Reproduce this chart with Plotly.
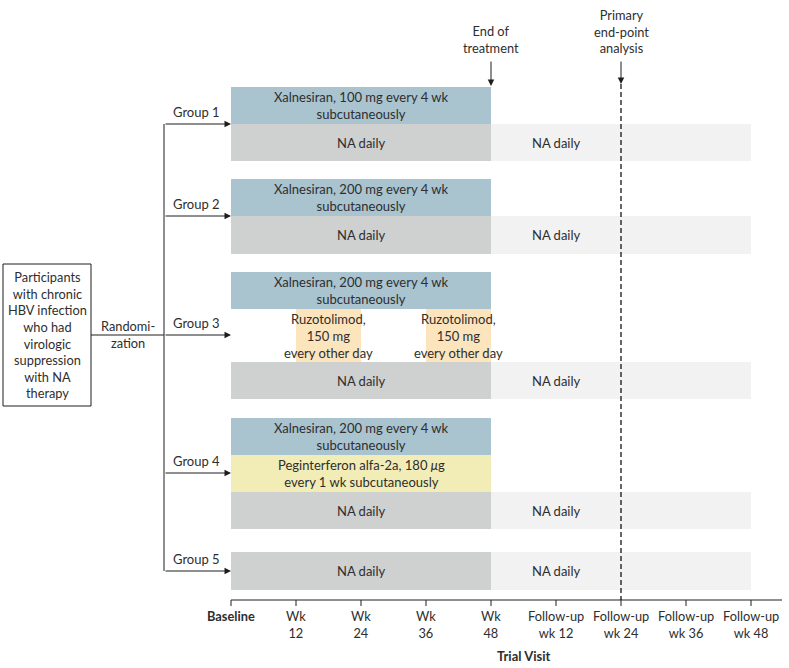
import plotly.graph_objects as go

# ---------------- data ----------------
visit_weeks = [0, 12, 24, 36, 48, 60, 72, 84, 96]
visit_labels = ["<b>Baseline</b>", "Wk<br>12", "Wk<br>24", "Wk<br>36", "Wk<br>48",
                "Follow-up<br>wk 12", "Follow-up<br>wk 24", "Follow-up<br>wk 36", "Follow-up<br>wk 48"]
groups = ["Group 1", "Group 2", "Group 3", "Group 4", "Group 5"]
treatment_start_wk = 0
end_of_treatment_wk = 48
primary_endpoint_wk = 72
followup_end_wk = 96

xalnesiran_text = ["Xalnesiran, 100 mg every 4 wk<br>subcutaneously",
                   "Xalnesiran, 200 mg every 4 wk<br>subcutaneously",
                   "Xalnesiran, 200 mg every 4 wk<br>subcutaneously",
                   "Xalnesiran, 200 mg every 4 wk<br>subcutaneously",
                   None]
ruzotolimod_starts = [12, 36]   # Group 3
ruzotolimod_ends = [24, 48]
ruzotolimod_text = "Ruzotolimod,<br>150 mg<br>every other day"
peginterferon_text = "Peginterferon alfa-2a, 180 <i>μ</i>g<br>every 1 wk subcutaneously"
na_text = "NA daily"
participants_text = ("Participants<br>with chronic<br>HBV infection<br>who had<br>virologic"
                     "<br>suppression<br>with NA<br>therapy")
randomization_text = "Randomi-<br>zation"
end_treatment_text = "End of<br>treatment"
primary_text = "Primary<br>end-point<br>analysis"
axis_title = "<b>Trial Visit</b>"

# ---------------- layout / style ----------------
W, H = 789, 668
X0_PX = 231.0
PX_PER_WK = 65.0 / 12.0


def px(p):
    return (p - X0_PX) / PX_PER_WK


C_BLUE = "#a9c3cf"
C_DGRAY = "#cfd0d0"
C_LGRAY = "#f2f2f2"
C_ORANGE = "#fce4bd"
C_YELLOW = "#f2ecb6"
C_TEXT = "#2e2e2e"
C_LINE = "#1e1e1e"
FONT = "Lato"
FS = 13

# pixel rows
rows = {
    "Group 1": dict(arrow=124, xal=(87, 124), na=(124, 161)),
    "Group 2": dict(arrow=216, xal=(179, 216), na=(216, 254)),
    "Group 3": dict(arrow=335, xal=(272, 309), ruzo=(309, 362), na=(362, 399)),
    "Group 4": dict(arrow=473, xal=(418, 455), peg=(455, 492), na=(492, 529)),
    "Group 5": dict(arrow=571, na=(552, 590)),
}

fig = go.Figure()
annotations = []
shapes = []


def bar(x0, x1, band, color):
    top, bot = band
    fig.add_trace(go.Bar(orientation="h", y=[(top + bot) / 2], base=[x0], x=[x1 - x0],
                         width=[bot - top], marker=dict(color=color, line=dict(width=0)),
                         hoverinfo="skip", showlegend=False))


def label(x, y, text, size=FS, xref="x", **kw):
    annotations.append(dict(x=x, y=y, xref=xref, yref="y", text=text, showarrow=False,
                            font=dict(family=FONT, size=size, color=C_TEXT), **kw))


def arrow(x, y, ax, ay):
    annotations.append(dict(x=x, y=y, ax=ax, ay=ay, xref="x", yref="y", axref="x", ayref="y",
                            text="", showarrow=True, arrowhead=2, arrowsize=1.3, arrowwidth=1,
                            arrowcolor=C_LINE, standoff=0))


for gi, g in enumerate(groups):
    r = rows[g]
    mid_t = (treatment_start_wk + end_of_treatment_wk) / 2
    if xalnesiran_text[gi]:
        bar(treatment_start_wk, end_of_treatment_wk, r["xal"], C_BLUE)
        label(mid_t, sum(r["xal"]) / 2, xalnesiran_text[gi])
    if "ruzo" in r:
        for s, e in zip(ruzotolimod_starts, ruzotolimod_ends):
            bar(s, e, r["ruzo"], C_ORANGE)
            label((s + e) / 2, sum(r["ruzo"]) / 2, ruzotolimod_text)
    if "peg" in r:
        bar(treatment_start_wk, end_of_treatment_wk, r["peg"], C_YELLOW)
        label(mid_t, sum(r["peg"]) / 2, peginterferon_text)
    bar(treatment_start_wk, end_of_treatment_wk, r["na"], C_DGRAY)
    label(mid_t, sum(r["na"]) / 2, na_text)
    bar(end_of_treatment_wk, followup_end_wk, r["na"], C_LGRAY)
    label((end_of_treatment_wk + primary_endpoint_wk) / 2, sum(r["na"]) / 2, na_text)
    arrow(treatment_start_wk, r["arrow"], px(164), r["arrow"])
    label(px(196), r["arrow"] - 12, g)

# connector
shapes.append(dict(type="line", x0=px(164), x1=px(164), y0=rows["Group 1"]["arrow"],
                   y1=rows["Group 5"]["arrow"], xref="x", yref="y",
                   line=dict(color=C_LINE, width=1)))
shapes.append(dict(type="line", x0=px(91), x1=px(164), y0=335, y1=335, xref="x", yref="y",
                   line=dict(color=C_LINE, width=1)))
# participants box
shapes.append(dict(type="rect", x0=px(3), x1=px(91), y0=264, y1=406, xref="x", yref="y",
                   line=dict(color=C_LINE, width=1), fillcolor="white"))
label(px(47), 335, participants_text, size=12.8)
label(px(128), 334, randomization_text, size=12.8)

# time axis
shapes.append(dict(type="line", x0=treatment_start_wk, x1=px(782), y0=600, y1=600,
                   xref="x", yref="y", line=dict(color=C_LINE, width=1)))
for wk, lab in zip(visit_weeks, visit_labels):
    shapes.append(dict(type="line", x0=wk, x1=wk, y0=600, y1=606, xref="x", yref="y",
                       line=dict(color=C_LINE, width=1)))
    label(wk, 606, lab, yanchor="top", size=12.8)
label(px(523), 656, axis_title, size=13)

# end of treatment + primary endpoint
label(end_of_treatment_wk, 39, end_treatment_text, size=12.8)
arrow(end_of_treatment_wk, 86, end_of_treatment_wk, 60)
label(primary_endpoint_wk, 31, primary_text, size=12.8)
arrow(primary_endpoint_wk, 84, primary_endpoint_wk, 60)
shapes.append(dict(type="line", x0=primary_endpoint_wk, x1=primary_endpoint_wk, y0=84, y1=600,
                   xref="x", yref="y", line=dict(color="#000000", width=1.2, dash="5px,3px")))

fig.update_layout(
    width=W, height=H, margin=dict(l=0, r=0, t=0, b=0),
    paper_bgcolor="white", plot_bgcolor="white", barmode="overlay",
    xaxis=dict(range=[px(0), px(W)], visible=False, fixedrange=True),
    yaxis=dict(range=[H, 0], visible=False, fixedrange=True),
    shapes=shapes, annotations=annotations, showlegend=False,
    font=dict(family=FONT, color=C_TEXT),
)
fig.write_html("out.html", config={"displayModeBar": False},
               post_script="document.body.style.margin='0';document.body.style.overflow='hidden';")
